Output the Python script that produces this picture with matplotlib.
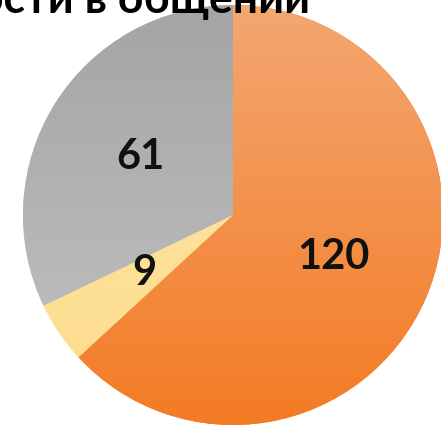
import numpy as np
import matplotlib
matplotlib.use("Agg")
import matplotlib.pyplot as plt
from matplotlib.colors import LinearSegmentedColormap

plt.rcParams['font.family'] = ['Lato', 'Open Sans', 'DejaVu Sans']

# data
values = [120, 9, 61]
labels = ["120", "9", "61"]
title = "Трудности в общении"
# gradient colours per slice: top colour, bottom colour
grad_colors = [("#F3A874", "#F47A22"), ("#FEE8A8", "#FDDC8C"), ("#A4A4A4", "#C4C4C4")]

fig = plt.figure(figsize=(4.41, 4.26), dpi=100)
ax = fig.add_axes([0, 0, 1, 1])

wedges, _ = ax.pie(values, startangle=90, counterclock=False, radius=1.0,
                   colors=[c[1] for c in grad_colors],
                   wedgeprops=dict(linewidth=0))

# vertical gradient fill clipped to each slice
grad = np.linspace(0, 1, 256).reshape(-1, 1)
for w, (c_top, c_bot) in zip(wedges, grad_colors):
    cmap = LinearSegmentedColormap.from_list("g", [c_top, c_bot])
    im = ax.imshow(grad, cmap=cmap, extent=(-1.05, 1.05, -1.05, 1.05),
                   origin="upper", aspect="auto", zorder=w.get_zorder() + 0.1)
    im.set_clip_path(w)

# pie centre at (233, 215) px from top-left, radius 210 px
ax.set_xlim(-233 / 210, (441 - 233) / 210)
ax.set_ylim(-(426 - 215) / 210, 215 / 210)
ax.axis("off")

# value labels
px = lambda x, y: ((x - 233) / 210, (215 - y) / 210)
label_pos = [px(333, 257), px(144, 273), px(140, 157)]
for lab, (x, y) in zip(labels, label_pos):
    ax.text(x, y, lab, ha="center", va="center", fontsize=30,
            fontweight="bold", color="#111111", zorder=10)

# title, cut off at the top of the picture (as in the source image)
fig.text(310 / 441, 1 - 13 / 426, title, ha="right", va="baseline",
         fontsize=32, fontweight="bold", color="#000000")

fig.savefig("out.png", dpi=100)
